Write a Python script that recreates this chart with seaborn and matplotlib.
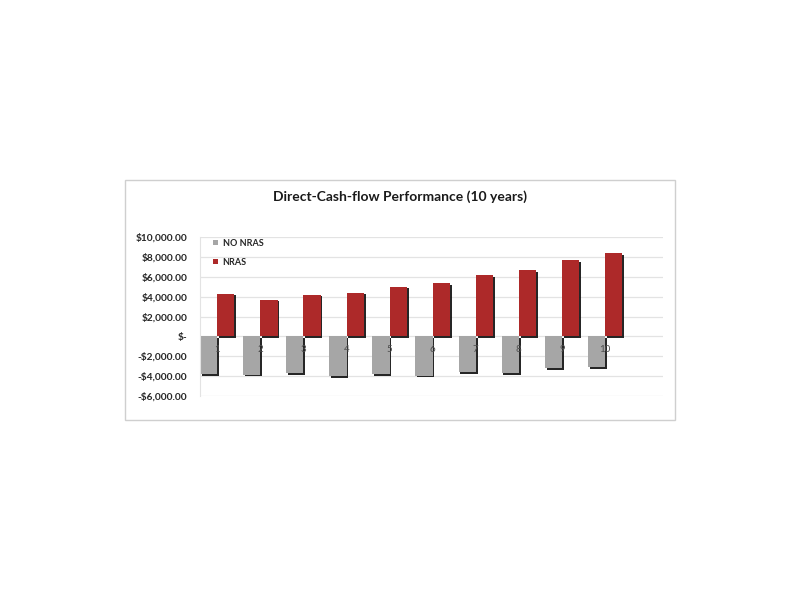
"""Direct-Cash-flow Performance (10 years) - NRAS vs tanpa NRAS."""
import matplotlib
matplotlib.use("Agg")
import matplotlib.pyplot as plt
import matplotlib.patheffects as pe
import pandas as pd
import seaborn as sns
from matplotlib.patches import Rectangle
from matplotlib.ticker import FuncFormatter

years = ["1", "2", "3", "4", "5", "6", "7", "8", "9", "10"]
no_nras = [-3800, -3850, -3700, -4000, -3800, -3950, -3600, -3700, -3200, -3100]
nras = [4300, 3700, 4200, 4400, 5000, 5400, 6200, 6700, 7700, 8400]
series_names = ["NO NRAS", "NRAS"]
y_ticks = [-6000, -4000, -2000, 0, 2000, 4000, 6000, 8000, 10000]

df = pd.DataFrame({
    "year": years * 2,
    "value": no_nras + nras,
    "series": [series_names[0]] * len(years) + [series_names[1]] * len(years),
})

sns.set_style("white")
plt.rcParams["font.family"] = ["Lato", "DejaVu Sans"]

fig = plt.figure(figsize=(8, 6), dpi=100)
# border chart ala Excel
fig.patches.append(Rectangle((0.156, 0.30), 0.6875, 0.40, transform=fig.transFigure,
                             fill=False, edgecolor="#cfcfcf", linewidth=1.0))
ax = fig.add_axes([0.25, 0.34, 0.579, 0.265])

sns.barplot(data=df, x="year", y="value", hue="series", order=years,
            hue_order=series_names, palette=["#a6a6a6", "#ad2929"],
            width=0.8, saturation=1, ax=ax, legend=True)

# efek bayangan 3D sederhana (hanya bar, bukan legend)
for patch in ax.patches:
    patch.set_edgecolor("none")
    patch.set_path_effects([pe.SimplePatchShadow(offset=(1.3, -1.3), shadow_rgbFace="#1a1a1a",
                                                 alpha=0.95), pe.Normal()])

ax.set_ylim(-6000, 10000)
ax.set_xlim(-0.4, 10.35)
ax.set_yticks(y_ticks)


def money(v, _pos):
    if v == 0:
        return "$-"
    sign = "-" if v < 0 else ""
    return f"{sign}${abs(v):,.2f}"


ax.yaxis.set_major_formatter(FuncFormatter(money))
ax.grid(axis="y", color="#e3e3e3", linewidth=0.9)
ax.set_axisbelow(True)
ax.set_xlabel("")
ax.set_ylabel("")

# label kategori di garis nol, di atas bar
ax.set_xticks([])
for i, lab in enumerate(years):
    ax.annotate(lab, (i, 0), xytext=(0, -6), textcoords="offset points",
                ha="center", va="top", fontsize=7, color="#4d4d4d", zorder=6)

ax.spines["bottom"].set_visible(False)
for s in ["top", "right"]:
    ax.spines[s].set_visible(False)
ax.spines["left"].set_color("#e3e3e3")
ax.tick_params(axis="y", length=0, pad=9, labelsize=7.3, labelcolor="#262626")
for lab in ax.get_yticklabels():
    lab.set_fontweight("bold")

leg = ax.legend(loc="upper left", bbox_to_anchor=(0.01, 1.04), frameon=False,
                handlelength=0.6, handleheight=0.6, handletextpad=0.5,
                labelspacing=1.1, prop={"weight": "bold", "size": 6.5})
for h in leg.legend_handles:
    h.set_path_effects([])

fig.text(0.5, 0.672, "Direct-Cash-flow Performance (10 years)", ha="center",
         va="center", fontsize=10, fontweight="bold", color="#1a1a1a")

fig.savefig("out.png", dpi=100)
